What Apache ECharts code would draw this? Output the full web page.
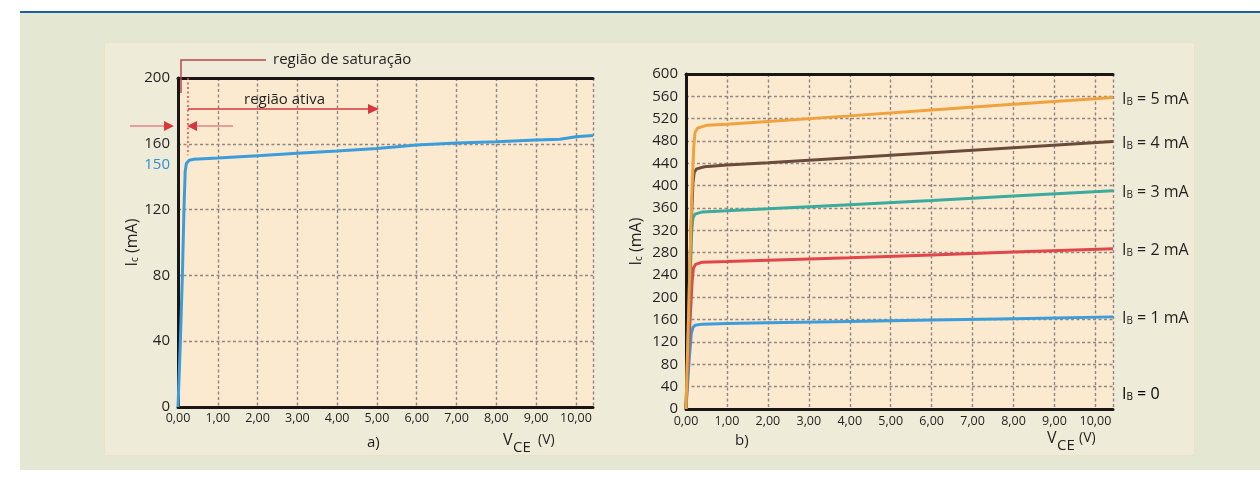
<!DOCTYPE html>
<html>
<head>
<meta charset="utf-8">
<script src="https://cdn.jsdelivr.net/npm/echarts@6/dist/echarts.min.js"></script>
<style>
  html, body { margin: 0; padding: 0; background: #ffffff; }
  #wrap { position: relative; width: 1260px; height: 483px; overflow: hidden; }
  #rule { position: absolute; left: 20px; top: 11px; width: 1240px; height: 2px; background: #1d5ea9; }
  #band { position: absolute; left: 20px; top: 13px; width: 1240px; height: 457px; background: #e4e7d2; }
  #panel { position: absolute; left: 104px; top: 42px; width: 1089px; height: 412px; background: #eeebd8; border: 1px solid #f1dec4; }
  #chart { position: absolute; left: 0; top: 0; width: 1260px; height: 483px; }
</style>
</head>
<body>
<div id="wrap">
  <div id="rule"></div>
  <div id="band"></div>
  <div id="panel"></div>
  <div id="chart"></div>
</div>
<script>
// Collector voltage axis (V) and current axes (mA)
const vceMax = 10.43;
const icMaxA = 200;
const icMaxB = 600;
const icStepA = 40;
const icStepB = 40;

// a) single output curve, IB fixed: [VCE, IC]
const curveA = [
  [0, 0], [0.06, 40], [0.11, 80], [0.15, 120], [0.18, 143], [0.21, 148],
  [0.28, 150], [0.4, 150.6], [1, 151.4], [2, 152.8], [3, 154.2], [4, 155.6],
  [5, 157.2], [6, 159.2], [7, 160.5], [8, 161.3], [9, 162.3], [9.6, 162.8],
  [10, 164.3], [10.43, 165]
];
const kneeLabelA = 150;     // current marked on the y axis
const saturationEdge = 0.25; // VCE where the active region begins

// b) family of output curves, one per base current
const ibLabels = ['1 mA', '2 mA', '3 mA', '4 mA', '5 mA'];
const ib1 = [[0, 0], [0.08, 90], [0.13, 135], [0.17, 146], [0.22, 150], [0.4, 152], [1, 153], [2, 154.3], [4, 156.8], [6, 159.3], [8, 161.8], [10.43, 165]];
const ib2 = [[0, 0], [0.1, 160], [0.15, 230], [0.18, 252], [0.23, 259], [0.4, 263], [1, 264], [2, 266.5], [4, 271], [6, 276], [8, 281], [10.43, 287]];
const ib3 = [[0, 0], [0.1, 230], [0.14, 320], [0.17, 342], [0.22, 349], [0.4, 353], [1, 355], [2, 358.5], [4, 366], [6, 373.5], [8, 381.5], [10.43, 391]];
const ib4 = [[0, 0], [0.12, 320], [0.17, 405], [0.2, 424], [0.26, 430], [0.45, 434], [1, 437], [2, 441], [4, 450], [6, 459], [8, 468], [10.43, 479]];
const ib5 = [[0, 0], [0.14, 380], [0.19, 470], [0.22, 495], [0.28, 503], [0.5, 508], [1, 510], [2, 515], [4, 525], [6, 535.5], [8, 546], [10.43, 558]];
const ibCurves = [ib1, ib2, ib3, ib4, ib5];
const ibColors = ['#3d9ddb', '#e2464b', '#3aab9c', '#6b4b3b', '#f0a23f'];

const ink = '#231f20';
const fontFam = '"Open Sans", "Noto Sans", sans-serif';
const gridDash = { color: '#8f8681', type: [3, 2.5], width: 1.4 };

function vceLabel(v) {
  if (Math.abs(v - Math.round(v)) > 1e-6) return '';
  return Math.round(v).toFixed(2).replace('.', ',');
}

const subRich = {
  m: { fontSize: 16, lineHeight: 19, verticalAlign: 'bottom', color: ink, fontFamily: fontFam },
  s: { fontSize: 10, lineHeight: 11, verticalAlign: 'bottom', color: ink, fontFamily: fontFam }
};

function xAxisFor(gridIndex, margin) {
  return {
    type: 'value', gridIndex, min: 0, max: vceMax, interval: 1,
    axisLine: { show: true, onZero: false, lineStyle: { color: '#1a1616', width: 3 } },
    axisTick: { show: false },
    axisLabel: { formatter: vceLabel, fontSize: 12.5, color: ink, fontFamily: fontFam, margin, showMaxLabel: false },
    splitLine: { show: true, lineStyle: gridDash }
  };
}
function topAxisFor(gridIndex) {
  return {
    type: 'value', gridIndex, position: 'top', min: 0, max: vceMax,
    axisLine: { show: true, onZero: false, lineStyle: { color: '#1a1616', width: 3 } },
    axisTick: { show: false }, axisLabel: { show: false }, splitLine: { show: false }
  };
}
function yAxisFor(gridIndex, max, step, gap) {
  return {
    type: 'value', gridIndex, min: 0, max, interval: step,
    name: '{m|I}{s|c}{m| (mA)}', nameLocation: 'middle', nameRotate: 90, nameGap: gap,
    nameTextStyle: { rich: subRich },
    axisLine: { show: true, onZero: false, lineStyle: { color: '#1a1616', width: 3 } },
    axisTick: { show: false },
    axisLabel: { fontSize: 15, color: ink, fontFamily: fontFam, margin: 8 },
    splitLine: { show: true, lineStyle: gridDash }
  };
}

const series = [
  {
    type: 'line', xAxisIndex: 0, yAxisIndex: 0, data: curveA, showSymbol: false,
    lineStyle: { color: '#3d9ddb', width: 3 }, z: 5
  },
  {
    type: 'line', xAxisIndex: 0, yAxisIndex: 0, showSymbol: false,
    data: [[saturationEdge, icMaxA], [saturationEdge, kneeLabelA + 3]],
    lineStyle: { color: '#e0524f', width: 1.6, type: [2, 2.5] }, z: 4
  }
];
ibCurves.forEach((c, i) => {
  series.push({
    type: 'line', xAxisIndex: 2, yAxisIndex: 1, data: c, showSymbol: false,
    lineStyle: { color: ibColors[i], width: 3 }, z: 5 + i,
    endLabel: {
      show: true, distance: 9,
      formatter: '{m|I}{s|B}{m| = ' + ibLabels[i] + '}',
      rich: subRich
    }
  });
});

const chart = echarts.init(document.getElementById('chart'), null, { renderer: 'canvas' });
chart.setOption({
  backgroundColor: 'transparent',
  animation: false,
  textStyle: { fontFamily: fontFam },
  grid: [
    { left: 178, top: 78, width: 415, height: 329, show: true, backgroundColor: '#fcead0', borderWidth: 0 },
    { left: 686, top: 74, width: 427, height: 335, show: true, backgroundColor: '#fcead0', borderWidth: 0 }
  ],
  xAxis: [xAxisFor(0, 5), topAxisFor(0), xAxisFor(1, 6), topAxisFor(1)],
  yAxis: [yAxisFor(0, icMaxA, icStepA, 38), yAxisFor(1, icMaxB, icStepB, 42)],
  series
});

// Annotations placed after the axes exist
const kneePx = chart.convertToPixel({ xAxisIndex: 0, yAxisIndex: 0 }, [0, kneeLabelA]);
const ib0Px = chart.convertToPixel({ xAxisIndex: 2, yAxisIndex: 1 }, [vceMax, 0]);
const satPx = chart.convertToPixel({ xAxisIndex: 0, yAxisIndex: 0 }, [saturationEdge, 0]);
const red = '#d7373d';
const pink = '#e58385';

function txt(x, y, text, size, extra) {
  return Object.assign({
    type: 'text', x, y, z: 20,
    style: Object.assign({ text, fill: ink, fontSize: size, fontFamily: fontFam, verticalAlign: 'middle' }, extra || {})
  });
}

chart.setOption({
  graphic: [
    // saturation bracket and caption
    { type: 'polyline', z: 20, shape: { points: [[181, 93], [181, 60], [266, 60]] }, style: { stroke: '#b9474b', lineWidth: 1.5, fill: null } },
    txt(273, 60, 'região de saturação', 15),
    // active region caption and arrow
    txt(244, 100, 'região ativa', 15),
    { type: 'line', z: 20, shape: { x1: satPx[0], y1: 109, x2: 370, y2: 109 }, style: { stroke: red, lineWidth: 1.6 } },
    { type: 'polygon', z: 20, shape: { points: [[368, 104], [379, 109], [368, 114]] }, style: { fill: red } },
    // pair of arrows pointing at the saturation band
    { type: 'line', z: 20, shape: { x1: 130, y1: 126, x2: 165, y2: 126 }, style: { stroke: pink, lineWidth: 1.5 } },
    { type: 'polygon', z: 20, shape: { points: [[164, 121], [174, 126], [164, 131]] }, style: { fill: red } },
    { type: 'line', z: 20, shape: { x1: 196, y1: 126, x2: 233, y2: 126 }, style: { stroke: pink, lineWidth: 1.5 } },
    { type: 'polygon', z: 20, shape: { points: [[197, 121], [187, 126], [197, 131]] }, style: { fill: red } },
    // knee current on the y axis
    txt(kneePx[0] - 8, kneePx[1] + 4, String(kneeLabelA), 15, { fill: '#2f8fd3', align: 'right' }),
    // IB = 0 label
    { type: 'text', z: 20, x: ib0Px[0] + 9, y: ib0Px[1] - 16, style: { rich: subRich, text: '{m|I}{s|B}{m| = 0}', verticalAlign: 'middle' } },
    // axis titles and panel captions
    txt(503, 440, 'V', 16),
    txt(513, 448, 'CE', 15),
    txt(538, 440, '(V)', 14),
    txt(367, 443, 'a)', 15),
    txt(1047, 438, 'V', 16),
    txt(1057, 446, 'CE', 15),
    txt(1079, 438, '(V)', 14),
    txt(735, 441, 'b)', 15)
  ]
});
</script>
</body>
</html>
